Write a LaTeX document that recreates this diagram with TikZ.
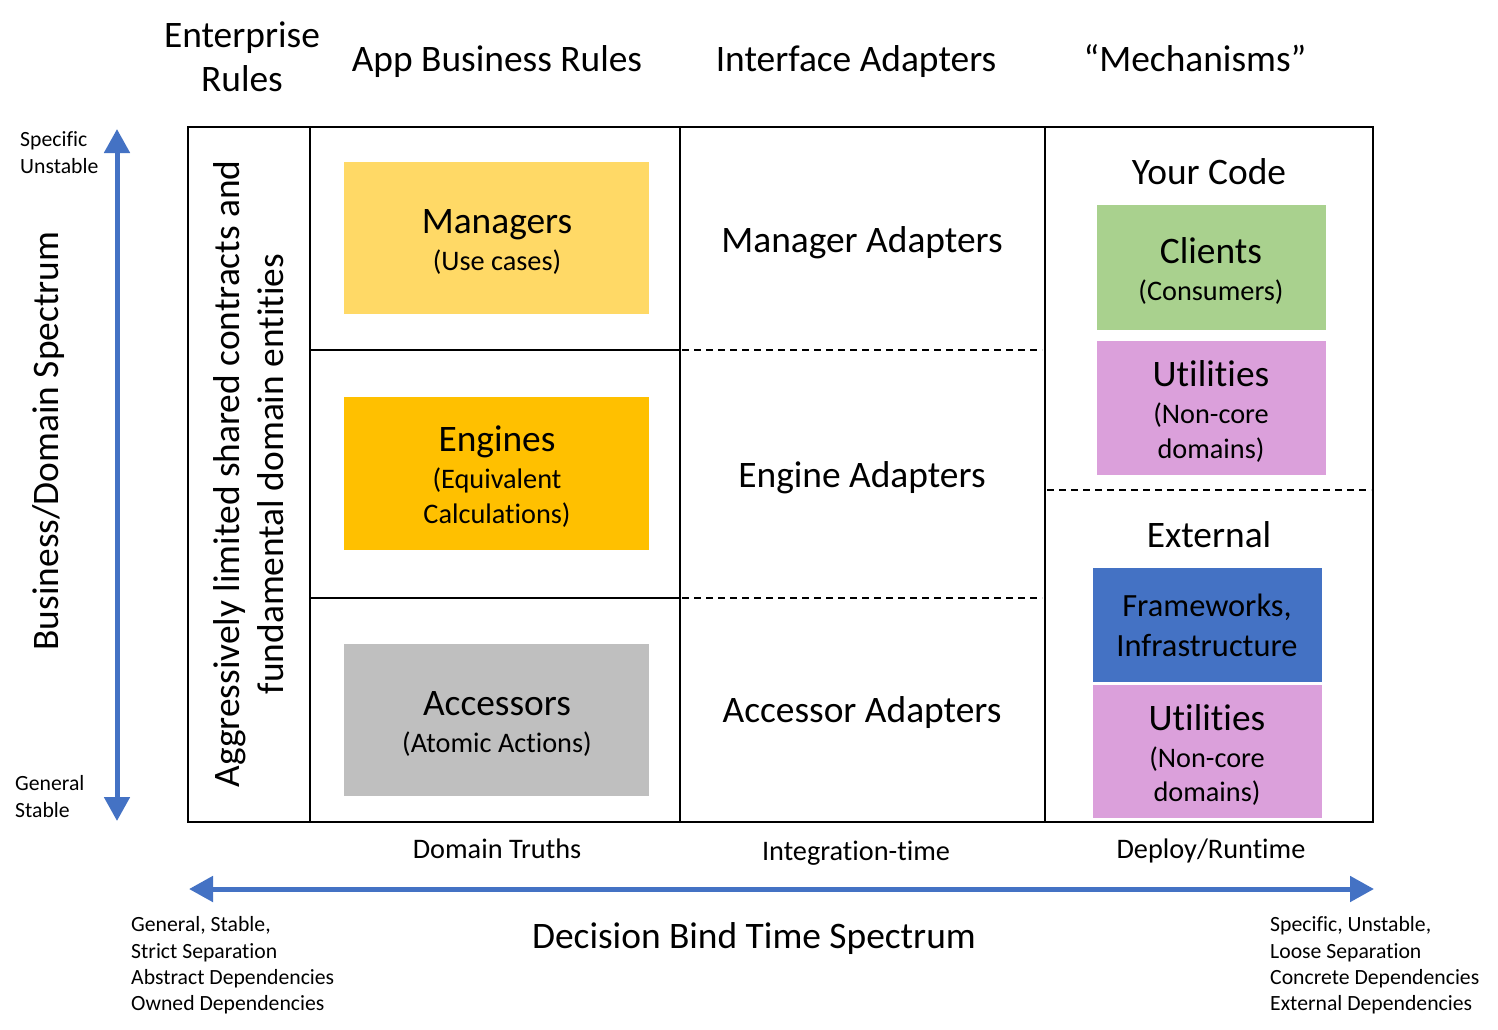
\documentclass[tikz,border=0pt]{standalone}
\usepackage{fontspec}
\setmainfont{Carlito}[RawFeature={-liga;-clig;-calt;-dlig}]
\usetikzlibrary{arrows.meta}
\definecolor{mgrcol}{HTML}{FFD966}
\definecolor{engcol}{HTML}{FFC000}
\definecolor{acccol}{HTML}{BFBFBF}
\definecolor{clicol}{HTML}{A9D18E}
\definecolor{utilcol}{HTML}{DBA0DB}
\definecolor{fwcol}{HTML}{4472C4}
\definecolor{arrcol}{HTML}{4472C4}
\begin{document}
\begin{tikzpicture}[x=1pt,y=-1pt,
  big/.style={font=\fontsize{37.4}{44}\selectfont, anchor=base, inner sep=0pt},
  sub/.style={font=\fontsize{28.3}{34}\selectfont, anchor=base, inner sep=0pt},
  fw/.style={font=\fontsize{32.4}{38}\selectfont, anchor=base, inner sep=0pt},
  small/.style={font=\fontsize{21.7}{26}\selectfont, anchor=base west, inner sep=0pt},
  boxnode/.style={draw=none, inner sep=0pt, minimum width=#1},
  grid/.style={line width=2pt, black},
  dashgrid/.style={line width=1.6pt, black, dash pattern=on 7pt off 5pt},
  spectrum/.style={line width=5pt, arrcol, {Triangle[width=25pt,length=24pt]}-{Triangle[width=25pt,length=24pt]}}
]
\useasboundingbox (0,0) rectangle (1498,1029);
\fill[white] (0,0) rectangle (1498,1029);

% coloured boxes
\node[boxnode=305pt, minimum height=152pt, fill=mgrcol] (mgr) at (496.5,238) {};
\node[boxnode=305pt, minimum height=153pt, fill=engcol] (eng) at (496.5,473.5) {};
\node[boxnode=305pt, minimum height=152pt, fill=acccol] (acc) at (496.5,720) {};
\node[boxnode=229pt, minimum height=125pt, fill=clicol] (cli) at (1211.5,267.5) {};
\node[boxnode=229pt, minimum height=134pt, fill=utilcol] (utA) at (1211.5,408) {};
\node[boxnode=229pt, minimum height=114pt, fill=fwcol] (fwk) at (1207.5,625) {};
\node[boxnode=229pt, minimum height=133pt, fill=utilcol] (utB) at (1207.5,751.5) {};

% table
\draw[grid] (188,127) rectangle (1373,822);
\draw[grid] (310,127) -- (310,822);
\draw[grid] (680,127) -- (680,822);
\draw[grid] (1045,127) -- (1045,822);
\draw[grid] (310,350) -- (680,350);
\draw[grid] (310,598) -- (680,598);
\draw[dashgrid] (682,350) -- (1042,350);
\draw[dashgrid] (682,598) -- (1042,598);
\draw[dashgrid] (1047,490) -- (1371,490);

% headers
\node[big] (ent1) at (242,47) {Enterprise};
\node[big] (ent2) at (242,91) {Rules};
\node[big] (app) at (497,71) {App Business Rules};
\node[big] (ifa) at (856,71) {Interface Adapters};
\node[big] (mech) at (1195,71) {“Mechanisms”};

% rotated enterprise text
\node[big, rotate=90] (ag1) at (239,474) {Aggressively limited shared contracts and};
\node[big, rotate=90] (ag2) at (283,474) {fundamental domain entities};

% app business rules
\node[big] (mgrT) at (497,233) {Managers};
\node[sub] (mgrS) at (497,270) {(Use cases)};
\node[big] (engT) at (497,451) {Engines};
\node[sub] (engS1) at (497,488) {(Equivalent};
\node[sub] (engS2) at (497,523) {Calculations)};
\node[big] (accT) at (497,715) {Accessors};
\node[sub] (accS) at (497,752) {(Atomic Actions)};

% interface adapters
\node[big] (madp) at (862,252) {Manager Adapters};
\node[big] (eadp) at (862,487) {Engine Adapters};
\node[big] (aadp) at (862,722) {Accessor Adapters};

% mechanisms
\node[big] (your) at (1209,184) {Your Code};
\node[big] (cliT) at (1211,263) {Clients};
\node[sub] (cliS) at (1211,300) {(Consumers)};
\node[big] (utAT) at (1211,386) {Utilities};
\node[sub] (utAS1) at (1211,423) {(Non-core};
\node[sub] (utAS2) at (1211,458) {domains)};
\node[big] (ext) at (1209,547) {External};
\node[fw] (fw1) at (1207,616) {Frameworks,};
\node[fw] (fw2) at (1207,656) {Infrastructure};
\node[big] (utBT) at (1207,730) {Utilities};
\node[sub] (utBS1) at (1207,767) {(Non-core};
\node[sub] (utBS2) at (1207,801) {domains)};

% bottom column labels
\node[sub] (dt) at (497,858) {Domain Truths};
\node[sub] (it) at (856,860) {Integration-time};
\node[sub] (dr) at (1211,858) {Deploy/Runtime};

% vertical spectrum
\coordinate (vtop) at (117,129);
\coordinate (vbot) at (117,821);
\draw[spectrum] (vbot) -- (vtop);
\node[big, rotate=90] (bds) at (58,441) {Business/Domain Spectrum};
\node[small] (sp1) at (20,146) {Specific};
\node[small] (sp2) at (20,173) {Unstable};
\node[small] (gn1) at (15,790) {General};
\node[small] (gn2) at (15,817) {Stable};

% horizontal spectrum
\coordinate (hleft) at (189,889);
\coordinate (hright) at (1374,889);
\draw[spectrum] (hleft) -- (hright);
\node[big] (dbts) at (754,948) {Decision Bind Time Spectrum};
\node[small] (l1) at (131,931) {General, Stable,};
\node[small] (l2) at (131,958) {Strict Separation};
\node[small] (l3) at (131,984) {Abstract Dependencies};
\node[small] (l4) at (131,1010) {Owned Dependencies};
\node[small] (r1) at (1270,931) {Specific, Unstable,};
\node[small] (r2) at (1270,958) {Loose Separation};
\node[small] (r3) at (1270,984) {Concrete Dependencies};
\node[small] (r4) at (1270,1010) {External Dependencies};
\end{tikzpicture}
\end{document}
